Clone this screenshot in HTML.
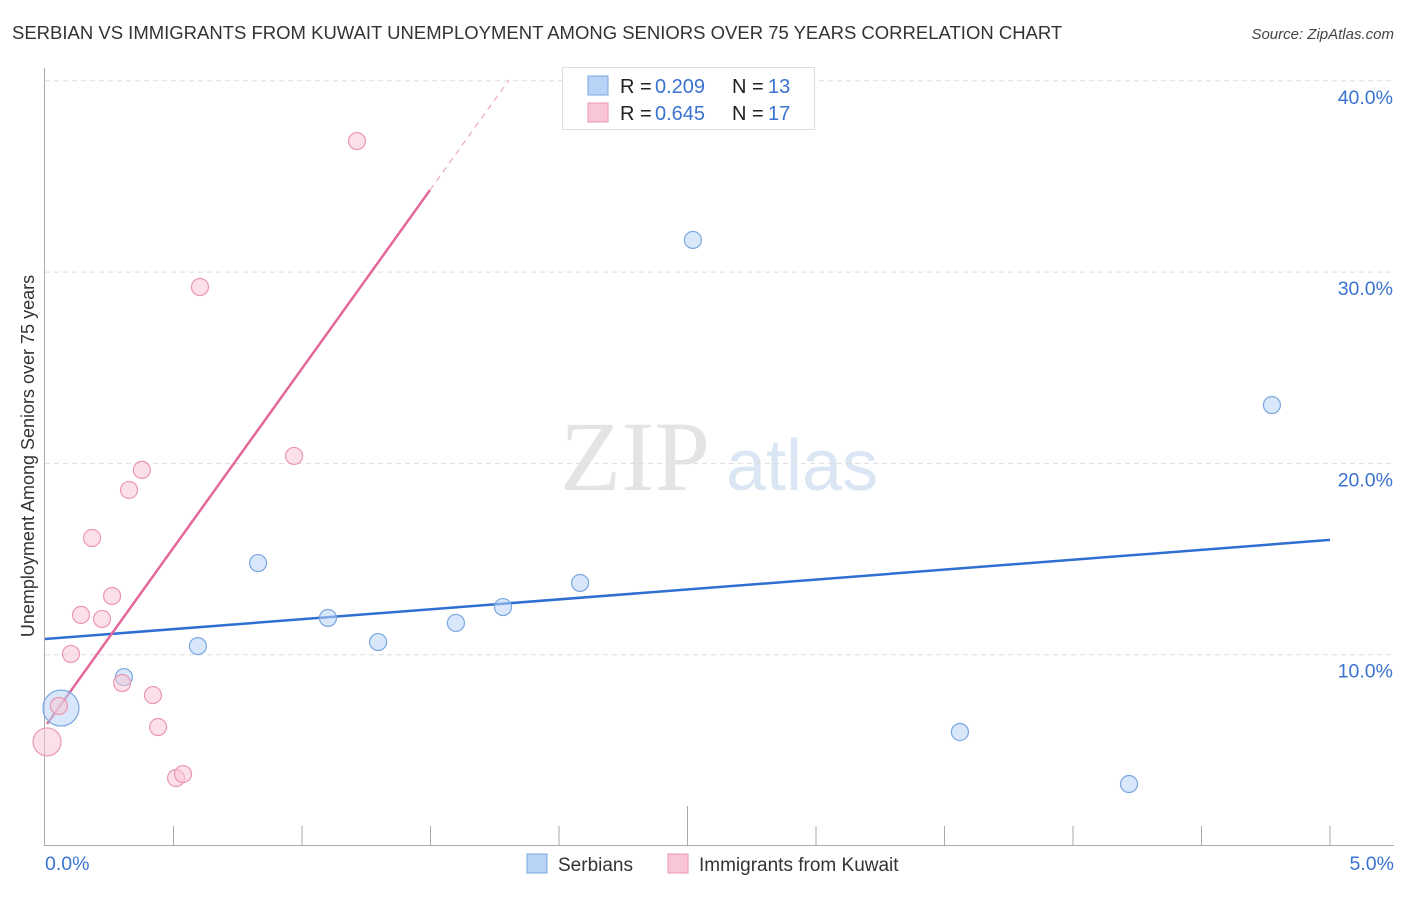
<!DOCTYPE html>
<html><head><meta charset="utf-8"><style>
body{margin:0;background:#fff;font-family:"Liberation Sans",sans-serif;}
</style></head><body>
<svg id="chart" width="1406" height="892" xmlns="http://www.w3.org/2000/svg" font-family="Liberation Sans, sans-serif">
<text x="12" y="39" font-size="18.5" fill="#333">SERBIAN VS IMMIGRANTS FROM KUWAIT UNEMPLOYMENT AMONG SENIORS OVER 75 YEARS CORRELATION CHART</text>
<text x="1394" y="39" font-size="15" fill="#444" text-anchor="end" font-style="italic">Source: ZipAtlas.com</text>
<text transform="translate(34,456) rotate(-90)" font-size="18" fill="#333" text-anchor="middle">Unemployment Among Seniors over 75 years</text>
<g>
<text x="635" y="490" font-size="100" fill="#e4e4e4" text-anchor="middle" style="font-family:'Liberation Serif',serif">ZIP</text>
<text x="802" y="490" font-size="72" fill="#dbe6f5" text-anchor="middle">atlas</text>
</g>
<g id="grid"></g><g id="axes"></g><g id="lines"></g><g id="pts"></g>
<g>
<rect x="562.5" y="67.5" width="252" height="62" fill="#fff" stroke="#ddd"/>
<rect x="588" y="76" width="20" height="19" fill="#b8d3f5" stroke="#7aa7e0"/>
<rect x="588" y="103" width="20" height="19" fill="#f9c6d5" stroke="#eb97b2"/>
<text x="620" y="93" font-size="20" fill="#222">R =</text>
<text x="655" y="93" font-size="20" fill="#3a73d0">0.209</text>
<text x="732" y="93" font-size="20" fill="#222">N =</text>
<text x="768" y="93" font-size="20" fill="#3a73d0">13</text>
<text x="620" y="120" font-size="20" fill="#222">R =</text>
<text x="655" y="120" font-size="20" fill="#3a73d0">0.645</text>
<text x="732" y="120" font-size="20" fill="#222">N =</text>
<text x="768" y="120" font-size="20" fill="#3a73d0">17</text>
</g>
<g>
<rect x="527" y="854" width="20" height="19" fill="#b8d3f5" stroke="#7aa7e0"/>
<text x="558" y="871" font-size="19" fill="#333">Serbians</text>
<rect x="668" y="854" width="20" height="19" fill="#f9c6d5" stroke="#eb97b2"/>
<text x="699" y="871" font-size="19" fill="#333">Immigrants from Kuwait</text>
</g>
</svg>
<script>
const yTicks=[10,20,30,40];
const yTickLabels=["10.0%","20.0%","30.0%","40.0%"];
const xTickLabels=["0.0%","5.0%"];
const serbX=[0.062,0.307,0.595,0.829,1.101,1.296,1.599,1.782,2.082,2.521,3.560,4.218,4.774];
const serbY=[7.21,8.83,10.45,14.79,11.92,10.66,11.66,12.49,13.75,31.68,5.96,3.24,23.05];
const serbR=[18,8.5,8.5,8.5,8.5,8.5,8.5,8.5,8.5,8.5,8.5,8.5,8.5];
const kuwX=[0.008,0.054,0.101,0.140,0.183,0.222,0.261,0.300,0.327,0.377,0.420,0.440,0.510,0.537,0.603,0.969,1.214];
const kuwY=[5.44,7.32,10.04,12.08,16.10,11.87,13.07,8.52,18.61,19.66,7.89,6.22,3.55,3.76,29.22,20.39,36.85];
const kuwR=[14,8.5,8.5,8.5,8.5,8.5,8.5,8.5,8.5,8.5,8.5,8.5,8.5,8.5,8.5,8.5,8.5];
const serbLine=[10.82,16.0];
const kuwLine=[6.23,18.73];
const kuwSolidEnd=1.498, kuwDashEnd=1.805;
const X=v=>45+v/5*1285, Y=v=>846-v*19.13;
const NS="http://www.w3.org/2000/svg";
function mk(tag,attrs,parent){const e=document.createElementNS(NS,tag);for(const k in attrs)e.setAttribute(k,attrs[k]);document.getElementById(parent).appendChild(e);return e;}
yTicks.forEach((t,i)=>{
 const l=mk('line',{x1:45,x2:1394,y1:Y(t),y2:Y(t),stroke:'#ddd','stroke-dasharray':'5,4'},'grid');
 
 
 const tx=mk('text',{x:1393,y:Y(t)+23,'font-size':19.5,fill:'#3a73d0','text-anchor':'end'},'grid');
 tx.textContent=yTickLabels[i];
 
 
});
const ax=mk('path',{d:'M44.5 68V845.5H1394',stroke:'#aaa',fill:'none'},'axes');


for(let i=1;i<=10;i++){
 const x=X(i*0.5);
 const t=mk('line',{x1:x,x2:x,y1:i==5?806:826,y2:845,stroke:'#aaa'},'axes');
 
 
}
[[0,45,'start'],[5,1394,'end']].forEach((a,i)=>{
 const t=mk('text',{x:a[1],y:870,'font-size':19.5,fill:'#3a73d0','text-anchor':a[2]},'axes');
 t.textContent=xTickLabels[i];
 
 
});
function pts(xs,ys,rs,fill,stroke,name){xs.forEach((x,i)=>{
 const c=mk('circle',{cx:X(x),cy:Y(ys[i]),r:rs[i],fill:fill,stroke:stroke,'stroke-width':1.2},'pts');
 
 
});}
pts(serbX,serbY,serbR,'rgba(184,211,245,0.55)','#7aa7e0','serbian-point');
pts(kuwX,kuwY,kuwR,'rgba(249,198,213,0.55)','#eb97b2','kuwait-point');
const bl=mk('line',{x1:X(0),y1:Y(serbLine[0]),x2:X(5),y2:Y(serbLine[1]),stroke:'#2f6fd2','stroke-width':2.5},'lines');


const kl=mk('line',{x1:X(0.008),y1:Y(kuwLine[0]+kuwLine[1]*0.008),x2:X(kuwSolidEnd),y2:Y(kuwLine[0]+kuwLine[1]*kuwSolidEnd),stroke:'#e3679a','stroke-width':2.5},'lines');


const kd=mk('line',{x1:X(kuwSolidEnd),y1:Y(kuwLine[0]+kuwLine[1]*kuwSolidEnd),x2:X(kuwDashEnd),y2:Y(kuwLine[0]+kuwLine[1]*kuwDashEnd),stroke:'#eba8c2','stroke-width':1.2,'stroke-dasharray':'6,5'},'lines');


</script>
</body></html>
